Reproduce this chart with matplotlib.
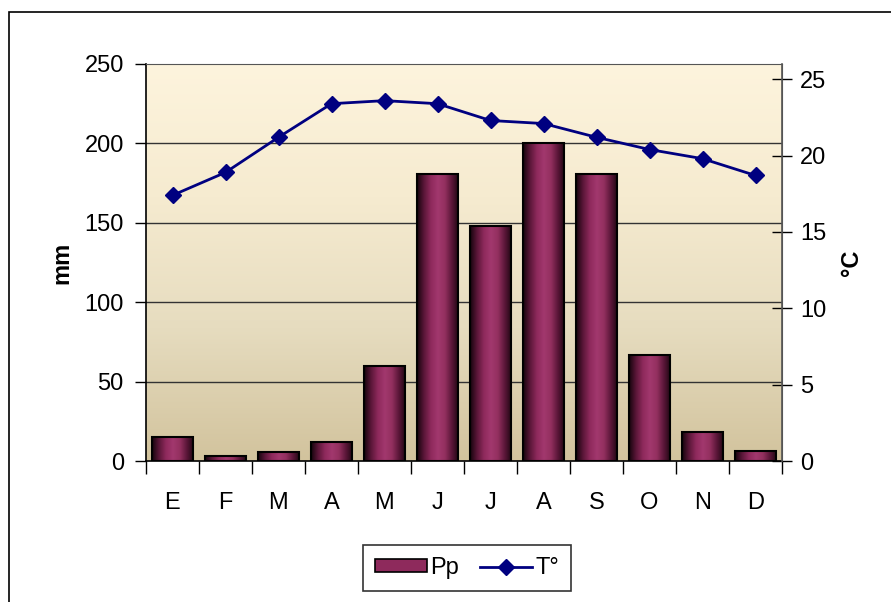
import numpy as np
import matplotlib
matplotlib.use("Agg")
import matplotlib.pyplot as plt
from matplotlib.colors import LinearSegmentedColormap
from matplotlib.patches import Rectangle, Patch
from matplotlib.lines import Line2D

plt.rcParams['font.family'] = ['Liberation Sans', 'DejaVu Sans']
FS = 17

months = ["E", "F", "M", "A", "M", "J", "J", "A", "S", "O", "N", "D"]
precip = [15, 3, 5.5, 12, 60, 181, 148, 200, 181, 67, 18, 6]
temp = [17.4, 18.9, 21.2, 23.4, 23.6, 23.4, 22.3, 22.1, 21.2, 20.4, 19.8, 18.7]
mm_ticks = [0, 50, 100, 150, 200, 250]
c_ticks = [0, 5, 10, 15, 20, 25]

W, H = 891, 602
fig = plt.figure(figsize=(W / 100, H / 100), dpi=100)
fig.patch.set_facecolor("white")

# outer frame
fig.add_artist(Rectangle((9 / W, -0.2), 1.2, 1.2 - 12 / H, transform=fig.transFigure,
                         fill=False, edgecolor="black", linewidth=1.2))

ax = fig.add_axes([146 / W, 1 - 461 / H, (782 - 146) / W, (461 - 64) / H])
x = np.arange(len(months))

# background gradient
bg = LinearSegmentedColormap.from_list("bg", ["#d2c39d", "#e6dcbf", "#f6ebd0", "#fdf4dd"])
grad = np.linspace(0, 1, 256).reshape(-1, 1)
ax.imshow(grad, cmap=bg, aspect="auto", extent=[0, 1, 0, 1], origin="lower",
          transform=ax.transAxes, zorder=0)

for yv in mm_ticks[1:-1]:
    ax.axhline(yv, color="#333333", linewidth=1.0, zorder=1)

barcmap = LinearSegmentedColormap.from_list(
    "bar", ["#14040c", "#5a1638", "#8e2a5c", "#a2386e", "#93305f", "#5a1638", "#1c0610"])
bars = ax.bar(x, precip, width=0.78, facecolor="none", edgecolor="black", linewidth=1.5, zorder=3)
hgrad = np.linspace(0, 1, 256).reshape(1, -1)
for b in bars:
    x0, y0 = b.get_x(), b.get_y()
    w, h = b.get_width(), b.get_height()
    im = ax.imshow(hgrad, cmap=barcmap, aspect="auto", extent=[x0, x0 + w, y0, y0 + h],
                   origin="lower", zorder=2)
    im.set_clip_path(b)
ax.set_xlim(-0.5, len(months) - 0.5)
ax.set_ylim(0, 250)

ax.set_yticks(mm_ticks)
ax.tick_params(axis="y", direction="out", length=8, width=1, pad=8, labelsize=FS)
ax.set_xticks(np.arange(-0.5, len(months), 1.0))
ax.set_xticklabels([])
ax.tick_params(axis="x", which="major", direction="out", length=9, width=1)
ax.set_xticks(x, minor=True)
ax.set_xticklabels(months, minor=True)
ax.tick_params(axis="x", which="minor", length=0, pad=22, labelsize=FS)

for s in ["left", "bottom"]:
    ax.spines[s].set_color("black")
    ax.spines[s].set_linewidth(1.2)
ax.spines["top"].set_color("#555555")
ax.spines["right"].set_color("#555555")

ax.set_ylabel("mm", fontsize=FS, fontweight="bold", labelpad=8)

ax2 = ax.twinx()
ax2.patch.set_visible(False)
ax2.set_ylim(0, 26)
ax2.set_yticks(c_ticks)
ax2.tick_params(axis="y", direction="inout", length=14, width=1, pad=6, labelsize=FS)
ax2.plot(x, temp, color="#000080", linewidth=2, marker="D", markersize=8, zorder=5)
ax2.set_ylabel("°C", fontsize=FS, fontweight="bold", rotation=90, labelpad=10)
for s in ax2.spines.values():
    s.set_visible(False)
ax2.spines["right"].set_visible(True)
ax2.spines["right"].set_color("#555555")
ax2.spines["right"].set_linewidth(1.2)

handles = [Patch(facecolor="#8e2a5c", edgecolor="black", linewidth=1.2),
           Line2D([], [], color="#000080", linewidth=2, marker="D", markersize=8)]
leg = fig.legend(handles, ["Pp", "T°"], loc="center", bbox_to_anchor=(467 / W, 1 - 568 / H),
                 ncol=2, fontsize=FS, frameon=True, fancybox=False, handlelength=2.2,
                 handleheight=0.45, columnspacing=0.9, handletextpad=0.15, borderpad=0.5)
leg.get_frame().set_edgecolor("black")
leg.get_frame().set_linewidth(1.2)

fig.savefig("out.png", dpi=100)
